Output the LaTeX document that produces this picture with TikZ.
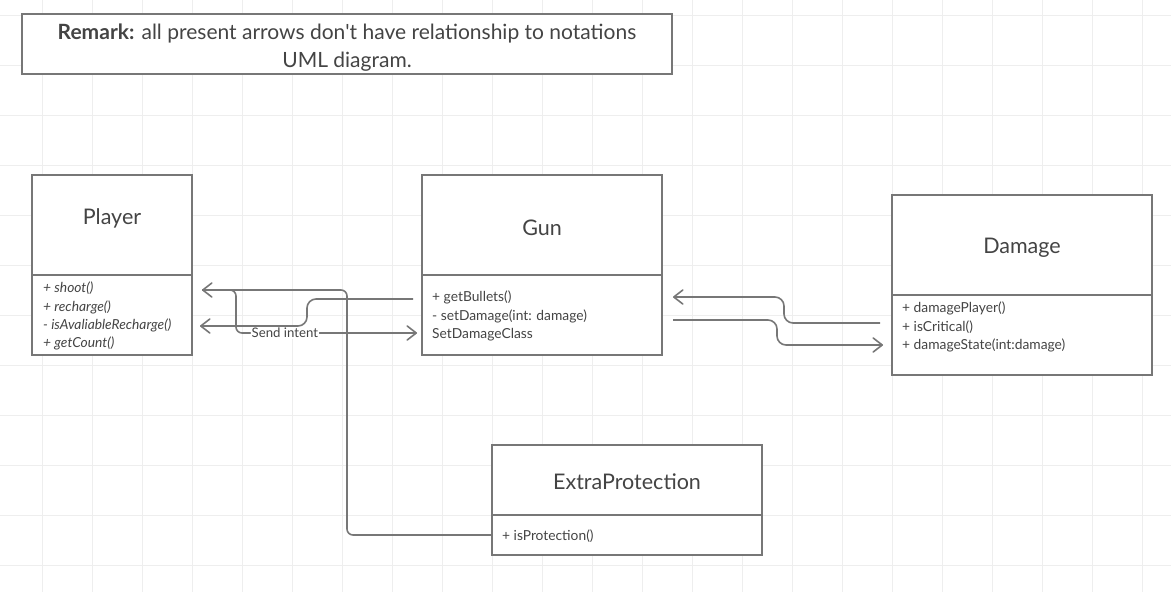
\documentclass[tikz,border=0pt]{standalone}
\usepackage{fontspec}
\setmainfont{Lato}
\usepackage{xcolor}
\usepackage{tikz}
\usetikzlibrary{arrows.meta,positioning,calc}

\definecolor{linegray}{HTML}{777777}
\definecolor{textgray}{HTML}{444444}
\definecolor{gridgray}{HTML}{EEEEEE}

\tikzset{
    classbox/.style={draw=linegray, line width=1.6pt, fill=white, inner sep=0pt},
    classtitle/.style={text=textgray, font=\fontsize{21.5}{24}\selectfont},
    members/.style={text=textgray, font=\fontsize{13.8}{18.3}\selectfont, align=left, anchor=north west, inner sep=0pt},
    divider/.style={draw=linegray, line width=1.6pt},
    link/.style={draw=linegray, line width=1.6pt, rounded corners=6pt},
    openarrow/.style={-{Straight Barb[length=9pt,width=14pt,line join=round,line cap=round]}}
}

\begin{document}
\begin{tikzpicture}[x=1pt,y=-1pt]
    \useasboundingbox (0,0) rectangle (1171,592);

    % background grid
    \foreach \gx in {42,92,...,1142} \draw[gridgray, line width=1pt] (\gx,0) -- (\gx,592);
    \foreach \gy in {15,65,...,565} \draw[gridgray, line width=1pt] (0,\gy) -- (1171,\gy);

    % remark
    \node[classbox, minimum width=650pt, minimum height=60pt] (remark) at (347,44) {};
    \node[text=textgray, font=\fontsize{21}{28}\selectfont, align=center] (remarktext) at (347,48)
        {\textbf{Remark:} all present arrows don\textquotesingle t have relationship to notations\\UML diagram.};

    % classes
    \node[classbox, minimum width=160pt, minimum height=180pt] (player) at (112,265) {};
    \draw[divider] (player.west |- 0,275) -- (player.east |- 0,275);
    \node[classtitle] (playertitle) at (112,218) {Player};
    \node[members, font=\fontsize{13.8}{18.3}\selectfont\itshape] (playermembers) at (43,282)
        {+ shoot()\\+ recharge()\\- isAvaliableRecharge()\\+ getCount()};

    \node[classbox, minimum width=240pt, minimum height=180pt] (gun) at (542,265) {};
    \draw[divider] (gun.west |- 0,275) -- (gun.east |- 0,275);
    \node[classtitle] (guntitle) at (542,228) {Gun};
    \node[members] (gunmembers) at (432,291)
        {+ getBullets()\\- setDamage(int: damage)\\SetDamageClass};

    \node[classbox, minimum width=260pt, minimum height=180pt] (damage) at (1022,285) {};
    \draw[divider] (damage.west |- 0,295) -- (damage.east |- 0,295);
    \node[classtitle] (damagetitle) at (1022,248) {Damage};
    \node[members] (damagemembers) at (902,302)
        {+ damagePlayer()\\+ isCritical()\\+ damageState(int:damage)};

    \node[classbox, minimum width=270pt, minimum height=110pt] (extra) at (627,500) {};
    \draw[divider] (extra.west |- 0,515) -- (extra.east |- 0,515);
    \node[classtitle] (extratitle) at (627,482) {ExtraProtection};
    \node[members] (extramembers) at (502,530) {+ isProtection()};

    % connector ends
    \coordinate (playerin) at (202,290);
    \coordinate (playerin2) at (200,326);
    \coordinate (gunout) at (413,299);
    \coordinate (gunin) at (417,333);
    \coordinate (gunin2) at (673,297);
    \coordinate (gunout2) at (673,320);
    \coordinate (damageout) at (880,323);
    \coordinate (damagein) at (883,345);
    \coordinate (extraout) at (extra.west |- 0,535);

    % connectors
    \draw[link, openarrow] (extraout) -- (347,535) -- (347,290) -- (playerin);
    \draw[link, openarrow] (playerin) -- (236,290) -- (236,333)
        -- node[pos=0.27, fill=white, text=textgray, font=\fontsize{13.2}{15}\selectfont, inner sep=1pt] {Send intent} (gunin);
    \draw[link, rounded corners=9pt, openarrow] (gunout) -- (307,299) -- (307,326) -- (playerin2);
    \draw[link, rounded corners=9pt, openarrow] (damageout) -- (784,323) -- (784,297) -- (gunin2);
    \draw[link, rounded corners=9pt, openarrow] (gunout2) -- (777,320) -- (777,345) -- (damagein);
\end{tikzpicture}
\end{document}
